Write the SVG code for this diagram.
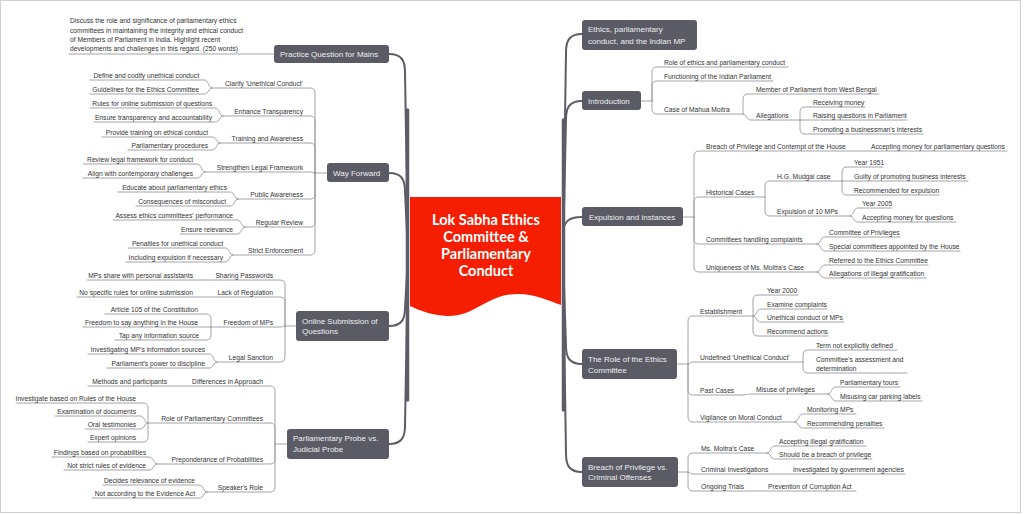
<svg xmlns="http://www.w3.org/2000/svg" width="1024" height="515" viewBox="0 0 1024 515">
<style>
.t{font-family:"Liberation Sans",Arial,sans-serif;font-size:6.7px;fill:#333}
.e{text-anchor:end}
.m{font-family:"Liberation Sans",Arial,sans-serif;font-size:8px;fill:#eeeef0}
.box{fill:#5b5b66}
.c{font-family:Lato,"Liberation Sans",sans-serif;font-weight:bold;font-size:14.5px;fill:#fff;text-anchor:middle}
#connectors path{fill:none;stroke-linecap:round}
.br{stroke:#9a9aa0;stroke-width:0.9}
.tr{stroke:#5d5d68;stroke-width:2}
</style>
<rect x="0.5" y="0.5" width="1020" height="512" fill="#fff" stroke="#d0d0d0"/>
<g id="connectors">
<path class="tr" d="M408,256 L405,72 C405,60 401,54 389,54"/>
<path class="tr" d="M408,256 L405,191 C405,179 401,173 389,173"/>
<path class="tr" d="M408,256 L405,308 C405,320 401,326 389,326"/>
<path class="tr" d="M408,256 L405,426 C405,438 401,444 389,444"/>
<path class="tr" d="M407.5,110 L407.5,400" style="stroke:#5d5d68;stroke-width:3.5"/>
<path class="tr" d="M563,256 L566,52 C566,40 570,34 582,34"/>
<path class="tr" d="M563,256 L566,119 C566,107 570,101 582,101"/>
<path class="tr" d="M563,256 L563,235 C563,222 568,217 582,217"/>
<path class="tr" d="M563,256 L566,346 C566,358 570,364 582,364"/>
<path class="tr" d="M563,256 L566,454 C566,466 570,472 582,472"/>
<path class="tr" d="M563.5,120 L563.5,410" style="stroke:#5d5d68;stroke-width:3.5"/>
<path class="br" d="M641,101 H652"/>
<path class="br" d="M652,101 V72 Q652,67 657,67 H788"/>
<path class="br" d="M652,101 V86 Q652,81 657,81 H773"/>
<path class="br" d="M652,101 V109 Q652,114 657,114 H743"/>
<path class="br" d="M743,114 V99 Q743,94 748,94 H879"/>
<path class="br" d="M743,114 C747,114 746,120 751,120 H800"/>
<path class="br" d="M800,120 V112 Q800,107 805,107 H865"/>
<path class="br" d="M800,120 H907"/>
<path class="br" d="M800,120 V129 Q800,134 805,134 H923"/>
<path class="br" d="M683,217 H694"/>
<path class="br" d="M694,217 V156 Q694,151 699,151 H1007"/>
<path class="br" d="M694,217 V202 Q694,197 699,197 H765"/>
<path class="br" d="M694,217 V239 Q694,244 699,244 H817"/>
<path class="br" d="M694,217 V267 Q694,272 699,272 H817"/>
<path class="br" d="M765,197 V186 Q765,181 770,181 H842"/>
<path class="br" d="M765,197 V211 Q765,216 770,216 H850"/>
<path class="br" d="M842,181 V172 Q842,167 847,167 H883"/>
<path class="br" d="M842,181 H968"/>
<path class="br" d="M842,181 V190 Q842,195 847,195 H939"/>
<path class="br" d="M850,216 C854,216 853,208 858,208 H892"/>
<path class="br" d="M850,216 C854,216 853,222 858,222 H956"/>
<path class="br" d="M817,244 C821,244 820,237 825,237 H900"/>
<path class="br" d="M817,244 C821,244 820,251 825,251 H960"/>
<path class="br" d="M817,272 C821,272 820,265 825,265 H928"/>
<path class="br" d="M817,272 C821,272 820,278 825,278 H926"/>
<path class="br" d="M677,364 H688"/>
<path class="br" d="M688,364 V321 Q688,316 693,316 H753"/>
<path class="br" d="M688,364 C690,364 690,362 693,362 H803"/>
<path class="br" d="M688,364 V390 Q688,395 693,395 H743"/>
<path class="br" d="M688,364 V417 Q688,422 693,422 H795"/>
<path class="br" d="M753,316 V300 Q753,295 758,295 H798"/>
<path class="br" d="M753,316 C757,316 756,309 761,309 H827"/>
<path class="br" d="M753,316 C757,316 756,322 761,322 H844"/>
<path class="br" d="M753,316 V331 Q753,336 758,336 H828"/>
<path class="br" d="M803,362 V355 Q803,350 808,350 H897"/>
<path class="br" d="M803,362 V368 Q803,373 808,373 H907"/>
<path class="br" d="M743,395 C747,395 746,394 751,394 H828"/>
<path class="br" d="M828,394 C832,394 831,387 836,387 H900"/>
<path class="br" d="M828,394 C832,394 831,401 836,401 H922"/>
<path class="br" d="M795,422 C799,422 798,414 803,414 H856"/>
<path class="br" d="M795,422 C799,422 798,428 803,428 H884"/>
<path class="br" d="M678,472 H688"/>
<path class="br" d="M688,472 V458 Q688,453 693,453 H767"/>
<path class="br" d="M688,472 C690,472 690,474 693,474 H905"/>
<path class="br" d="M688,472 V486 Q688,491 693,491 H856"/>
<path class="br" d="M767,453 C771,453 770,446 775,446 H866"/>
<path class="br" d="M767,453 C771,453 770,459 775,459 H872"/>
<path class="br" d="M274,54 H69"/>
<path class="br" d="M327,173 H315"/>
<path class="br" d="M315,173 V93 Q315,88 310,88 H212"/>
<path class="br" d="M315,173 V121 Q315,116 310,116 H223"/>
<path class="br" d="M315,173 V148 Q315,143 310,143 H220"/>
<path class="br" d="M315,173 C313,173 313,172 310,172 H205"/>
<path class="br" d="M315,173 V194 Q315,199 310,199 H238"/>
<path class="br" d="M315,173 V222 Q315,227 310,227 H245"/>
<path class="br" d="M315,173 V250 Q315,255 310,255 H233"/>
<path class="br" d="M212,88 C208,88 209,80 204,80 H90"/>
<path class="br" d="M212,88 C208,88 209,94 204,94 H90"/>
<path class="br" d="M223,116 C219,116 220,108 215,108 H90"/>
<path class="br" d="M223,116 C219,116 220,122 215,122 H94"/>
<path class="br" d="M220,143 C216,143 217,137 212,137 H102"/>
<path class="br" d="M220,143 C216,143 217,150 212,150 H128"/>
<path class="br" d="M205,172 C201,172 202,164 197,164 H83"/>
<path class="br" d="M205,172 C201,172 202,178 197,178 H83"/>
<path class="br" d="M238,199 C234,199 235,192 230,192 H118"/>
<path class="br" d="M238,199 C234,199 235,206 230,206 H136"/>
<path class="br" d="M245,227 C241,227 242,220 237,220 H113"/>
<path class="br" d="M245,227 C241,227 242,234 237,234 H180"/>
<path class="br" d="M233,255 C229,255 230,248 225,248 H128"/>
<path class="br" d="M233,255 C229,255 230,262 225,262 H126"/>
<path class="br" d="M296,326 H285"/>
<path class="br" d="M285,326 V285 Q285,280 280,280 H87"/>
<path class="br" d="M285,326 V302 Q285,297 280,297 H77"/>
<path class="br" d="M285,326 C283,326 283,327 280,327 H211"/>
<path class="br" d="M285,326 V357 Q285,362 280,362 H217"/>
<path class="br" d="M211,327 V319 Q211,314 206,314 H105"/>
<path class="br" d="M211,327 H83"/>
<path class="br" d="M211,327 V335 Q211,340 206,340 H115"/>
<path class="br" d="M217,362 C213,362 214,354 209,354 H88"/>
<path class="br" d="M217,362 C213,362 214,368 209,368 H107"/>
<path class="br" d="M287,444 H275"/>
<path class="br" d="M275,444 V391 Q275,386 270,386 H88"/>
<path class="br" d="M275,444 V428 Q275,423 270,423 H148"/>
<path class="br" d="M275,444 V459 Q275,464 270,464 H157"/>
<path class="br" d="M275,444 V487 Q275,492 270,492 H207"/>
<path class="br" d="M148,423 V408 Q148,403 143,403 H16"/>
<path class="br" d="M148,423 C144,423 145,416 140,416 H55"/>
<path class="br" d="M148,423 C144,423 145,429 140,429 H85"/>
<path class="br" d="M148,423 V437 Q148,442 143,442 H88"/>
<path class="br" d="M157,464 C153,464 154,457 149,457 H52"/>
<path class="br" d="M157,464 C153,464 154,470 149,470 H64"/>
<path class="br" d="M207,492 C203,492 204,485 199,485 H103"/>
<path class="br" d="M207,492 C203,492 204,498 199,498 H92"/>
</g>
<g id="center">
<path d="M410,197 H561 V305 C545,299 528,291 506,295 C484,300 470,317 447,316 C432,315 420,311 410,306 Z" fill="#f51e02"/>
<text class="c" x="486" y="225">Lok Sabha Ethics</text>
<text class="c" x="486" y="242">Committee &amp;</text>
<text class="c" x="486" y="259">Parliamentary</text>
<text class="c" x="486" y="276">Conduct</text>
</g>
<g id="ethics">
<rect class="box" x="582" y="20" width="115" height="30" rx="3"/>
<text class="m" x="588" y="31.8">Ethics, parliamentary</text>
<text class="m" x="588" y="43.6">conduct, and the Indian MP</text>
</g>
<g id="introduction">
<rect class="box" x="582" y="91" width="59" height="19" rx="3"/>
<text class="m" x="588" y="103.6">Introduction</text>
<text class="t" x="664" y="64.5">Role of ethics and parliamentary conduct</text>
<text class="t" x="664" y="78.5">Functioning of the Indian Parliament</text>
<text class="t" x="664" y="111.5">Case of Mahua Moitra</text>
<text class="t" x="756" y="91.5">Member of Parliament from West Bengal</text>
<text class="t" x="756" y="117.5">Allegations</text>
<text class="t" x="813" y="104.5">Receiving money</text>
<text class="t" x="813" y="117.5">Raising questions in Parliament</text>
<text class="t" x="813" y="131.5">Promoting a businessman's interests</text>
</g>
<g id="expulsion">
<rect class="box" x="582" y="207" width="101" height="19" rx="3"/>
<text class="m" x="589" y="219.6">Expulsion and instances</text>
<text class="t" x="706" y="148.5">Breach of Privilege and Contempt of the House</text>
<text class="t" x="871" y="148.5">Accepting money for parliamentary questions</text>
<text class="t" x="706" y="194.5">Historical Cases</text>
<text class="t" x="706" y="241.5">Committees handling complaints</text>
<text class="t" x="706" y="269.5">Uniqueness of Ms. Moitra's Case</text>
<text class="t" x="777" y="178.5">H.G. Mudgal case</text>
<text class="t" x="777" y="213.5">Expulsion of 10 MPs</text>
<text class="t" x="854" y="164.5">Year 1951</text>
<text class="t" x="854" y="178.5">Guilty of promoting business interests</text>
<text class="t" x="854" y="192.5">Recommended for expulsion</text>
<text class="t" x="862" y="205.5">Year 2005</text>
<text class="t" x="862" y="219.5">Accepting money for questions</text>
<text class="t" x="829" y="234.5">Committee of Privileges</text>
<text class="t" x="829" y="248.5">Special committees appointed by the House</text>
<text class="t" x="829" y="262.5">Referred to the Ethics Committee</text>
<text class="t" x="829" y="275.5">Allegations of illegal gratification</text>
</g>
<g id="role">
<rect class="box" x="582" y="349" width="95" height="30" rx="3"/>
<text class="m" x="588" y="361.6">The Role of the Ethics</text>
<text class="m" x="588" y="372.8">Committee</text>
<text class="t" x="700" y="313.5">Establishment</text>
<text class="t" x="700" y="359.5">Undefined 'Unethical Conduct'</text>
<text class="t" x="700" y="392.5">Past Cases</text>
<text class="t" x="700" y="419.5">Vigilance on Moral Conduct</text>
<text class="t" x="767" y="292.5">Year 2000</text>
<text class="t" x="767" y="306.5">Examine complaints</text>
<text class="t" x="767" y="319.5">Unethical conduct of MPs</text>
<text class="t" x="767" y="333.5">Recommend actions</text>
<text class="t" x="816" y="347.5">Term not explicitly defined</text>
<text class="t" x="816" y="361.5">Committee's assessment and</text>
<text class="t" x="816" y="370.5">determination</text>
<text class="t" x="756" y="391.5">Misuse of privileges</text>
<text class="t" x="840" y="384.5">Parliamentary tours</text>
<text class="t" x="840" y="398.5">Misusing car parking labels</text>
<text class="t" x="807" y="411.5">Monitoring MPs</text>
<text class="t" x="807" y="425.5">Recommending penalties</text>
</g>
<g id="breach">
<rect class="box" x="582" y="457" width="96" height="30" rx="3"/>
<text class="m" x="588" y="469.6">Breach of Privilege vs.</text>
<text class="m" x="588" y="480.4">Criminal Offenses</text>
<text class="t" x="701" y="450.5">Ms. Moitra's Case</text>
<text class="t" x="701" y="471.5">Criminal Investigations</text>
<text class="t" x="701" y="488.5">Ongoing Trials</text>
<text class="t" x="793" y="471.5">Investigated by government agencies</text>
<text class="t" x="768" y="488.5">Prevention of Corruption Act</text>
<text class="t" x="779" y="443.5">Accepting illegal gratification</text>
<text class="t" x="779" y="456.5">Should be a breach of privilege</text>
</g>
<g id="practice">
<rect class="box" x="274" y="45" width="115" height="18" rx="3"/>
<text class="m" x="280" y="56.8">Practice Question for Mains</text>
<text class="t" x="70" y="23.3">Discuss the role and significance of parliamentary ethics</text>
<text class="t" x="70" y="32.5">committees in maintaining the integrity and ethical conduct</text>
<text class="t" x="70" y="41.7">of Members of Parliament in India. Highlight recent</text>
<text class="t" x="70" y="50.9">developments and challenges in this regard. (250 words)</text>
</g>
<g id="wayforward">
<rect class="box" x="327" y="163" width="62" height="19" rx="3"/>
<text class="m" x="333" y="175.6">Way Forward</text>
<text class="t e" x="303" y="85.5">Clarify 'Unethical Conduct'</text>
<text class="t e" x="303" y="113.5">Enhance Transparency</text>
<text class="t e" x="303" y="140.5">Training and Awareness</text>
<text class="t e" x="303" y="169.5">Strengthen Legal Framework</text>
<text class="t e" x="303" y="196.5">Public Awareness</text>
<text class="t e" x="303" y="224.5">Regular Review</text>
<text class="t e" x="303" y="252.5">Strict Enforcement</text>
<text class="t e" x="199" y="77.5">Define and codify unethical conduct</text>
<text class="t e" x="199" y="91.5">Guidelines for the Ethics Committee</text>
<text class="t e" x="212" y="105.5">Rules for online submission of questions</text>
<text class="t e" x="212" y="119.5">Ensure transparency and accountability</text>
<text class="t e" x="208" y="134.5">Provide training on ethical conduct</text>
<text class="t e" x="208" y="147.5">Parliamentary procedures</text>
<text class="t e" x="193" y="161.5">Review legal framework for conduct</text>
<text class="t e" x="193" y="175.5">Align with contemporary challenges</text>
<text class="t e" x="227" y="189.5">Educate about parliamentary ethics</text>
<text class="t e" x="226" y="203.5">Consequences of misconduct</text>
<text class="t e" x="233" y="217.5">Assess ethics committees' performance</text>
<text class="t e" x="233" y="231.5">Ensure relevance</text>
<text class="t e" x="223" y="245.5">Penalties for unethical conduct</text>
<text class="t e" x="223" y="259.5">Including expulsion if necessary</text>
</g>
<g id="online">
<rect class="box" x="296" y="311" width="93" height="30" rx="3"/>
<text class="m" x="302" y="323.6">Online Submission of</text>
<text class="m" x="302" y="334">Questions</text>
<text class="t e" x="273" y="277.5">Sharing Passwords</text>
<text class="t e" x="273" y="294.5">Lack of Regulation</text>
<text class="t e" x="273" y="324.5">Freedom of MPs</text>
<text class="t e" x="273" y="359.5">Legal Sanction</text>
<text class="t e" x="193" y="277.5">MPs share with personal assistants</text>
<text class="t e" x="193" y="294.5">No specific rules for online submission</text>
<text class="t e" x="198" y="311.5">Article 105 of the Constitution</text>
<text class="t e" x="198" y="324.5">Freedom to say anything in the House</text>
<text class="t e" x="199" y="337.5">Tap any information source</text>
<text class="t e" x="205" y="351.5">Investigating MP's information sources</text>
<text class="t e" x="205" y="365.5">Parliament's power to discipline</text>
</g>
<g id="probe">
<rect class="box" x="287" y="429" width="102" height="30" rx="3"/>
<text class="m" x="293" y="441">Parliamentary Probe vs.</text>
<text class="m" x="293" y="451.8">Judicial Probe</text>
<text class="t e" x="263" y="383.5">Differences in Approach</text>
<text class="t e" x="263" y="420.5">Role of Parliamentary Committees</text>
<text class="t e" x="263" y="461.5">Preponderance of Probabilities</text>
<text class="t e" x="263" y="489.5">Speaker's Role</text>
<text class="t e" x="167" y="383.5">Methods and participants</text>
<text class="t e" x="136" y="400.5">Investigate based on Rules of the House</text>
<text class="t e" x="136" y="413.5">Examination of documents</text>
<text class="t e" x="136" y="426.5">Oral testimonies</text>
<text class="t e" x="136" y="439.5">Expert opinions</text>
<text class="t e" x="146" y="454.5">Findings based on probabilities</text>
<text class="t e" x="146" y="467.5">Not strict rules of evidence</text>
<text class="t e" x="195" y="482.5">Decides relevance of evidence</text>
<text class="t e" x="195" y="495.5">Not according to the Evidence Act</text>
</g>
</svg>
